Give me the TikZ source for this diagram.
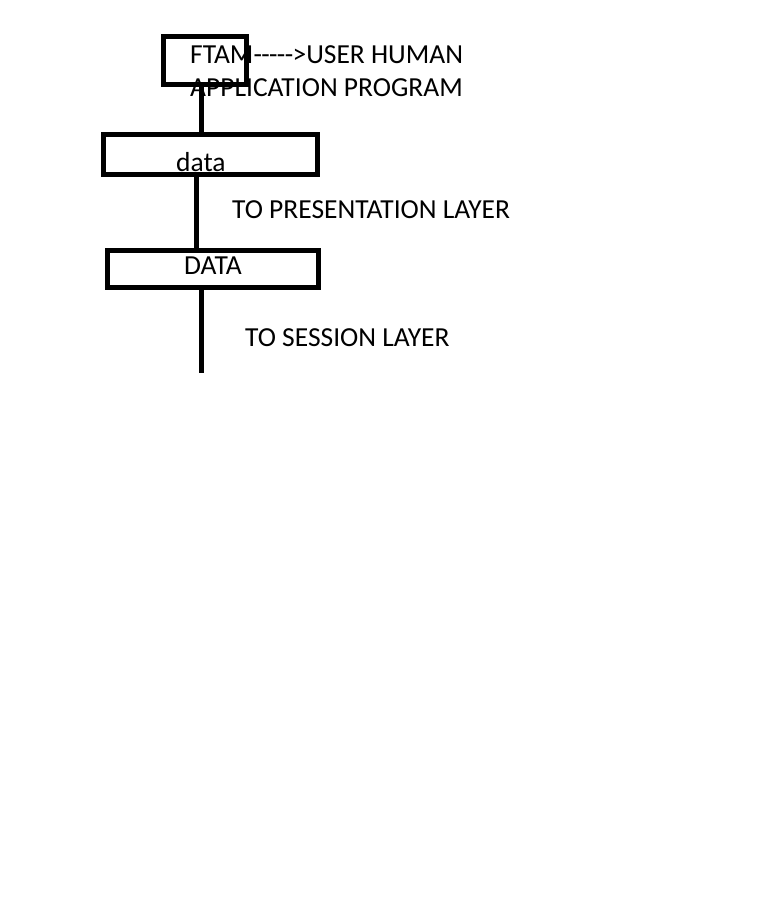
\documentclass[tikz,border=0pt]{standalone}
\usepackage{fontspec}
\setmainfont{Carlito}
\newcommand{\hy}{-\kern-0.6pt}
\begin{document}
\begin{tikzpicture}[x=1pt,y=-1pt,
  boxa/.style={draw=black,line width=5pt,inner sep=0pt,fill=none},
  link/.style={draw=black,line width=5pt},
  lbl/.style={anchor=base west,inner sep=0pt,font=\fontsize{27.5}{32}\selectfont}]
\useasboundingbox (0,0) rectangle (777,900);
\node[boxa,minimum width=83pt,minimum height=48pt] (b1) at (205,60.5) {};
\node[boxa,minimum width=214pt,minimum height=40pt] (b2) at (210.5,154.5) {};
\node[boxa,minimum width=211pt,minimum height=37pt] (b3) at (213,269) {};
\coordinate (end) at (201,373);
\draw[link] (b1.south -| 201,0) -- (b2.north -| 201,0);
\draw[link] (b2.south -| 196,0) -- (b3.north -| 196,0);
\draw[link] (b3.south -| 201,0) -- (end);
\node[lbl] (t1) at (190,63) {FTAM\hy\hy\hy\hy\hy>USER HUMAN};
\node[lbl] (t2) at (190,96) {APPLICATION PROGRAM};
\node[lbl] (t3) at (176,171) {data};
\node[lbl] (t4) at (232,218) {TO PRESENTATION LAYER};
\node[lbl] (t5) at (184,274) {DATA};
\node[lbl] (t6) at (245,346) {TO SESSION LAYER};
\end{tikzpicture}
\end{document}
